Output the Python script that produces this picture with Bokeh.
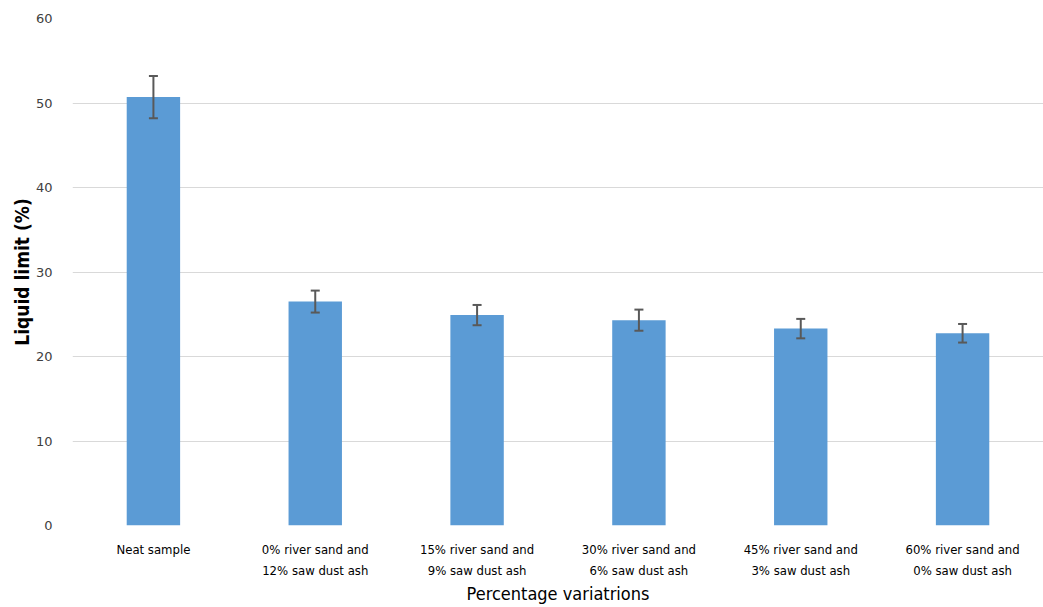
from bokeh.plotting import figure
from bokeh.models import ColumnDataSource, Whisker, TeeHead, FactorRange, Range1d, FixedTicker
from bokeh.embed import file_html
from bokeh.resources import INLINE

categories = ["Neat sample",
              "0% river sand and\n12% saw dust ash",
              "15% river sand and\n9% saw dust ash",
              "30% river sand and\n6% saw dust ash",
              "45% river sand and\n3% saw dust ash",
              "60% river sand and\n0% saw dust ash"]
liquid_limit = [50.7, 26.5, 24.9, 24.3, 23.3, 22.75]
errors = [2.5, 1.3, 1.2, 1.25, 1.15, 1.1]

upper = [v + e for v, e in zip(liquid_limit, errors)]
lower = [v - e for v, e in zip(liquid_limit, errors)]
src = ColumnDataSource(dict(cat=categories, val=liquid_limit, upper=upper, lower=lower))

p = figure(x_range=FactorRange(*categories), y_range=Range1d(0, 60),
           width=1043, height=607, output_backend="svg", toolbar_location=None,
           min_border_left=72, min_border_top=18, min_border_right=0, min_border_bottom=70)
p.outline_line_color = None
p.background_fill_color = "white"

p.vbar(x="cat", top="val", width=0.33, source=src, fill_color="#5b9bd5", line_color=None)

w = Whisker(base="cat", upper="upper", lower="lower", source=src,
            line_color="#595959", line_width=2, level="overlay",
            upper_head=TeeHead(size=9, line_color="#595959", line_width=2),
            lower_head=TeeHead(size=9, line_color="#595959", line_width=2))
p.add_layout(w)

p.yaxis.ticker = FixedTicker(ticks=[0, 10, 20, 30, 40, 50, 60])
p.yaxis.axis_line_color = None
p.yaxis.major_tick_line_color = None
p.yaxis.minor_tick_line_color = None
p.yaxis.major_label_standoff = 14
p.yaxis.major_label_text_font = "DejaVu Sans"
p.yaxis.major_label_text_font_size = "13px"
p.yaxis.major_label_text_color = "#404040"
p.yaxis.axis_label = "Liquid limit (%)"
p.yaxis.axis_label_text_font = "DejaVu Sans Condensed"
p.yaxis.axis_label_text_font_style = "bold"
p.yaxis.axis_label_text_font_size = "19px"
p.yaxis.axis_label_text_color = "#000000"
p.yaxis.axis_label_standoff = 0

p.xaxis.axis_line_color = None
p.xaxis.major_tick_line_color = None
p.xaxis.minor_tick_line_color = None
p.xaxis.major_label_standoff = 10
p.xaxis.major_label_text_font = "DejaVu Sans Condensed"
p.xaxis.major_label_text_font_size = "13px"
p.xaxis.major_label_text_line_height = 1.45
p.xaxis.major_label_text_color = "#000000"
p.xaxis.axis_label = "Percentage variatrions"
p.xaxis.axis_label_text_font = "DejaVu Sans Condensed"
p.xaxis.axis_label_text_font_style = "normal"
p.xaxis.axis_label_text_font_size = "18px"
p.xaxis.axis_label_text_color = "#000000"
p.xaxis.axis_label_standoff = 2

p.xgrid.grid_line_color = None
p.ygrid.grid_line_color = "#d9d9d9"
p.ygrid.grid_line_width = 1

open("out.html", "w").write(file_html(p, INLINE))
